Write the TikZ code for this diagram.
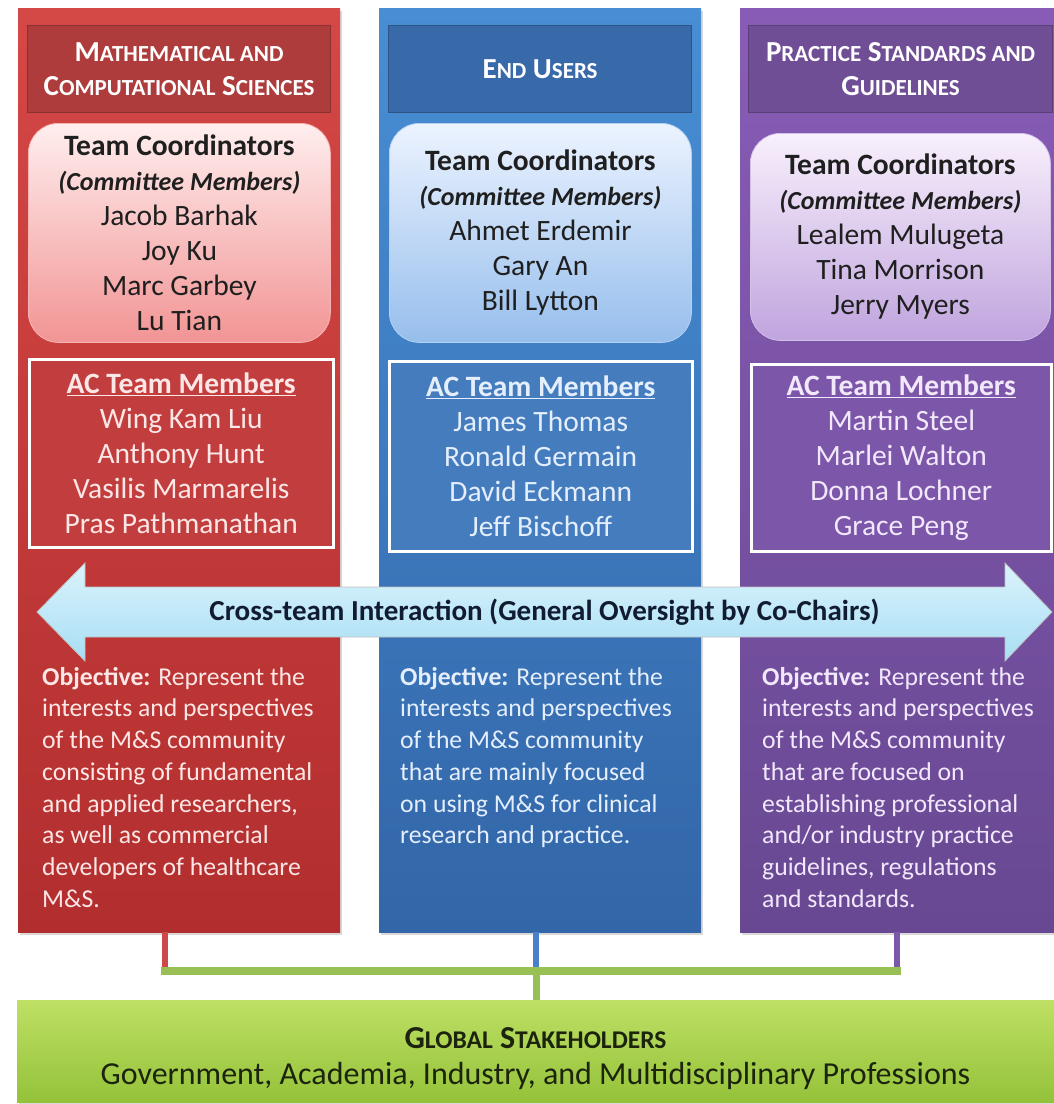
\documentclass[tikz,border=0pt]{standalone}
\usepackage{fontspec}
\setmainfont{Carlito}
\usetikzlibrary{shadows,calc}

\definecolor{redTop}{RGB}{212,72,70}
\definecolor{redBot}{RGB}{178,46,46}
\definecolor{redHead}{RGB}{174,60,60}
\definecolor{redAC}{RGB}{194,62,62}
\definecolor{redTxt}{RGB}{252,230,230}
\definecolor{redCoTop}{RGB}{255,238,238}
\definecolor{redCoBot}{RGB}{242,148,148}
\definecolor{redStub}{RGB}{205,72,72}

\definecolor{bluTop}{RGB}{72,142,212}
\definecolor{bluBot}{RGB}{50,102,168}
\definecolor{bluHead}{RGB}{56,106,170}
\definecolor{bluAC}{RGB}{68,124,190}
\definecolor{bluTxt}{RGB}{228,238,252}
\definecolor{bluCoTop}{RGB}{236,243,255}
\definecolor{bluCoBot}{RGB}{150,190,236}
\definecolor{bluStub}{RGB}{72,128,204}

\definecolor{purTop}{RGB}{136,92,182}
\definecolor{purBot}{RGB}{104,72,146}
\definecolor{purHead}{RGB}{112,78,150}
\definecolor{purAC}{RGB}{124,86,168}
\definecolor{purTxt}{RGB}{242,232,252}
\definecolor{purCoTop}{RGB}{248,240,252}
\definecolor{purCoBot}{RGB}{192,164,222}
\definecolor{purStub}{RGB}{124,88,168}

\definecolor{arrTop}{RGB}{218,243,252}
\definecolor{arrBot}{RGB}{168,222,244}
\definecolor{arrTxt}{RGB}{18,28,48}
\definecolor{grnTop}{RGB}{190,224,100}
\definecolor{grnBot}{RGB}{148,194,58}
\definecolor{grnLine}{RGB}{152,192,84}
\definecolor{grnTxt}{RGB}{28,36,14}

\newcommand\myfs[2]{\fontsize{#1}{#2}\selectfont}
\newcommand\hsm[1]{{\fontsize{23}{34}\selectfont #1}}
\newcommand\gsm[1]{{\fontsize{25.5}{36}\selectfont #1}}

\tikzset{
  column/.style={anchor=north west, inner sep=0pt, draw=none,
    drop shadow={opacity=0.3, shadow xshift=2pt, shadow yshift=-3pt}},
  header/.style={anchor=north west, inner sep=0pt, align=center, text=white,
    font=\bfseries\myfs{29}{34}, line width=1.2pt},
  coordbox/.style={anchor=north west, inner sep=0pt, align=center, rounded corners=30pt,
    font=\myfs{29.5}{35}, text=black!88, line width=0.8pt},
  acbox/.style={anchor=north west, inner sep=0pt, align=center, draw=white,
    line width=2.5pt, font=\myfs{29.5}{35}},
  objtext/.style={anchor=north west, inner sep=0pt, align=left, font=\myfs{25.7}{31.7}},
  stub/.style={line width=6pt},
  gbar/.style={line width=8pt, draw=grnLine},
  bigarrow/.style={draw=black!25, line width=0.8pt, top color=arrTop, bottom color=arrBot},
}

\begin{document}
\begin{tikzpicture}[x=1pt,y=-1pt]
\useasboundingbox (0,0) rectangle (1054,1104);

% columns
\node[column, minimum width=322pt, minimum height=924pt, top color=redTop, bottom color=redBot] (colR) at (18,8) {};
\node[column, minimum width=322pt, minimum height=924pt, top color=bluTop, bottom color=bluBot] (colB) at (379,8) {};
\node[column, minimum width=314pt, minimum height=924pt, top color=purTop, bottom color=purBot] (colP) at (740,8) {};

% headers
\node[header, fill=redHead, draw=redHead!80!black, minimum width=303pt, minimum height=87pt] (hR) at (27,25)
  {M\hsm{ATHEMATICAL AND}\\C\hsm{OMPUTATIONAL} S\hsm{CIENCES}};
\node[header, fill=bluHead, draw=bluHead!80!black, minimum width=303pt, minimum height=87pt] (hB) at (388,25)
  {E\hsm{ND} U\hsm{SERS}};
\node[header, fill=purHead, draw=purHead!80!black, minimum width=304pt, minimum height=87pt] (hP) at (748,25)
  {P\hsm{RACTICE} S\hsm{TANDARDS AND}\\G\hsm{UIDELINES}};

% coordinators
\node[coordbox, top color=redCoTop, bottom color=redCoBot, draw=redCoBot!70!white, minimum width=302pt, minimum height=219pt] (cR) at (28,123)
  {\textbf{Team Coordinators}\\{\bfseries\itshape\myfs{26}{35}(Committee Members)}\\Jacob Barhak\\Joy Ku\\Marc Garbey\\Lu Tian};
\node[coordbox, top color=bluCoTop, bottom color=bluCoBot, draw=bluCoBot!70!white, minimum width=302pt, minimum height=219pt] (cB) at (389,123)
  {\textbf{Team Coordinators}\\{\bfseries\itshape\myfs{26}{35}(Committee Members)}\\Ahmet Erdemir\\Gary An\\Bill Lytton};
\node[coordbox, top color=purCoTop, bottom color=purCoBot, draw=purCoBot!70!white, minimum width=300pt, minimum height=207pt] (cP) at (750,133)
  {\textbf{Team Coordinators}\\{\bfseries\itshape\myfs{26}{35}(Committee Members)}\\Lealem Mulugeta\\Tina Morrison\\Jerry Myers};

% AC team members
\node[acbox, fill=redAC, text=redTxt, minimum width=304pt, minimum height=188pt] (aR) at (28,358)
  {\textbf{\underline{AC Team Members}}\\Wing Kam Liu\\Anthony Hunt\\Vasilis Marmarelis\\Pras Pathmanathan};
\node[acbox, fill=bluAC, text=bluTxt, minimum width=303pt, minimum height=190pt] (aB) at (388,360)
  {\textbf{\underline{AC Team Members}}\\James Thomas\\Ronald Germain\\David Eckmann\\Jeff Bischoff};
\node[acbox, fill=purAC, text=purTxt, minimum width=300pt, minimum height=187pt] (aP) at (750,363)
  {\textbf{\underline{AC Team Members}}\\Martin Steel\\Marlei Walton\\Donna Lochner\\Grace Peng};

% cross-team arrow
\path[bigarrow] (37,612) -- (85,563) -- (85,587) -- (1005,587) -- (1005,563) -- (1052,612)
  -- (1005,661) -- (1005,637) -- (85,637) -- (85,661) -- cycle;
\node[font=\bfseries\myfs{29}{32}, text=arrTxt] (arrLabel) at (544.5,612)
  {Cross-team Interaction (General Oversight by Co-Chairs)};

% objectives
\node[objtext, text=redTxt] (oR) at (42,667)
  {\textbf{Objective:} Represent the\\interests and perspectives\\of the M\&S community\\consisting of fundamental\\and applied researchers,\\as well as commercial\\developers of healthcare\\M\&S.};
\node[objtext, text=bluTxt] (oB) at (400,667)
  {\textbf{Objective:} Represent the\\interests and perspectives\\of the M\&S community\\that are mainly focused\\on using M\&S for clinical\\research and practice.};
\node[objtext, text=purTxt] (oP) at (762,667)
  {\textbf{Objective:} Represent the\\interests and perspectives\\of the M\&S community\\that are focused on\\establishing professional\\and/or industry practice\\guidelines, regulations\\and standards.};

% global stakeholders
\node[column, minimum width=1037pt, minimum height=102pt, top color=grnTop, bottom color=grnBot] (gs) at (17,1000) {};
\node[align=center, text=grnTxt, font=\myfs{32}{36}, inner sep=0pt] (gsText) at (535.5,1059)
  {\textbf{G\gsm{LOBAL} S\gsm{TAKEHOLDERS}}\\Government, Academia, Industry, and Multidisciplinary Professions};

% connectors
\coordinate (jR) at (165,971);
\coordinate (jB) at (536,971);
\coordinate (jP) at (897,971);
\draw[stub, draw=redStub] (colR.south -| jR) -- (jR);
\draw[stub, draw=bluStub] (colB.south -| jB) -- (jB);
\draw[stub, draw=purStub] (colP.south -| jP) -- (jP);
\draw[gbar] ([xshift=-4pt]jR) -- ([xshift=4pt]jP);
\draw[gbar, line width=7pt] (jB) -- (gs.north -| jB);
\end{tikzpicture}
\end{document}
